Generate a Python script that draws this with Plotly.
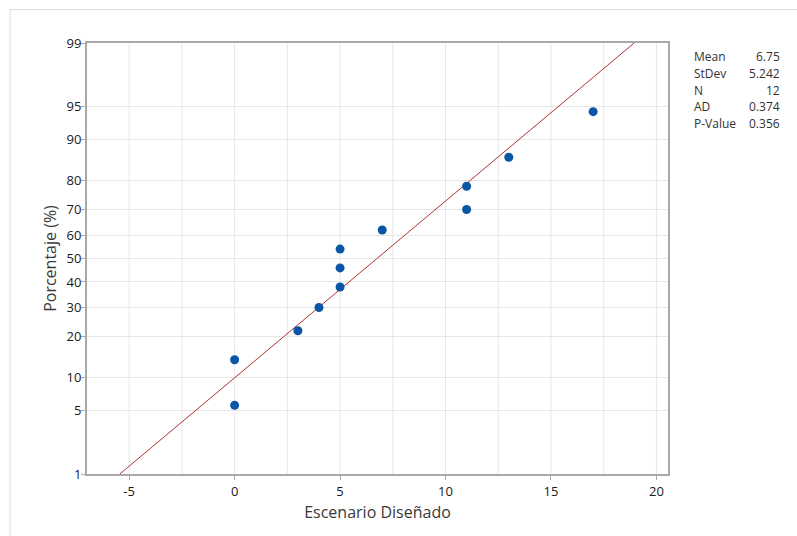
import plotly.graph_objects as go
from statistics import NormalDist

# Observations (sorted) for the normal probability plot
valores = [0, 0, 3, 4, 5, 5, 5, 7, 11, 11, 13, 17]
media = 6.75
desv = 5.242
stat_labels = ["Mean", "StDev", "N", "AD", "P-Value"]
stat_values = ["6.75", "5.242", "12", "0.374", "0.356"]
pct_ticks = [1, 5, 10, 20, 30, 40, 50, 60, 70, 80, 90, 95, 99]
x_ticks = [-5, 0, 5, 10, 15, 20]

nd = NormalDist()
n = len(valores)
# Median ranks (Benard) -> normal scores
pct = [(i - 0.3) / (n + 0.4) for i in range(1, n + 1)]
z_pts = [nd.inv_cdf(p) for p in pct]

z_lo, z_hi = nd.inv_cdf(0.01), nd.inv_cdf(0.99)
line_x = [media + desv * z_lo, media + desv * z_hi]
line_z = [z_lo, z_hi]

W, H = 797, 536
L, R, T, B = 87, 129, 43, 62
pw, ph = W - L - R, H - T - B

fig = go.Figure()
fig.add_trace(go.Scatter(x=line_x, y=line_z, mode="lines",
                         line=dict(color="#b03030", width=1), hoverinfo="skip"))
fig.add_trace(go.Scatter(x=valores, y=z_pts, mode="markers",
                         marker=dict(color="#0a55a6", size=9)))

grid = "#e6e6e6"
axis_col = "#a8a8a8"
font = "Open Sans, Noto Sans, sans-serif"

fig.update_xaxes(range=[-7.0, 20.55], tickvals=x_ticks, ticktext=[str(v) for v in x_ticks],
                 showgrid=False, zeroline=False, showline=True, linecolor=axis_col, linewidth=2,
                 mirror=True, ticks="outside", ticklen=4, tickcolor=axis_col,
                 tickfont=dict(size=13, color="#1a1a1a", family=font),
                 title=dict(text="Escenario Diseñado", font=dict(size=16, color="#3a3a3a", family=font),
                            standoff=8))
fig.update_yaxes(range=[z_lo, z_hi], tickvals=[nd.inv_cdf(p / 100) for p in pct_ticks],
                 ticktext=[str(p) for p in pct_ticks],
                 showgrid=True, gridcolor=grid, gridwidth=1, zeroline=False,
                 showline=True, linecolor=axis_col, linewidth=2, mirror=True,
                 ticks="outside", ticklen=4, tickcolor=axis_col, ticklabelstandoff=-3,
                 tickfont=dict(size=13, color="#1a1a1a", family=font),
                 title=dict(text="Porcentaje (%)", font=dict(size=16, color="#3a3a3a", family=font),
                            standoff=6))

# vertical grid every 2.5 units
shapes = []
v = -5.0
while v <= 20.0:
    shapes.append(dict(type="line", xref="x", yref="paper", x0=v, x1=v, y0=0, y1=1,
                       line=dict(color=grid, width=1), layer="below"))
    v += 2.5

# outer frame of the graph window
def px_x(px):
    return (px - L) / pw

def px_y(py):
    return 1 - (py - T) / ph

shapes.append(dict(type="rect", xref="paper", yref="paper",
                   x0=px_x(10), x1=px_x(810), y0=px_y(9.5), y1=px_y(560),
                   line=dict(color="#dcdcdc", width=1), layer="below"))

annotations = []
for i, (lab, val) in enumerate(zip(stat_labels, stat_values)):
    yy = px_y(57 + i * 16.5)
    annotations.append(dict(xref="paper", yref="paper", x=px_x(692), y=yy, text=lab,
                            showarrow=False, xanchor="left", yanchor="middle",
                            font=dict(size=12, color="#333", family=font)))
    annotations.append(dict(xref="paper", yref="paper", x=px_x(782), y=yy, text=val,
                            showarrow=False, xanchor="right", yanchor="middle",
                            font=dict(size=12, color="#333", family=font)))

fig.update_layout(width=W, height=H, margin=dict(l=L, r=R, t=T, b=B),
                  paper_bgcolor="white", plot_bgcolor="white", showlegend=False,
                  shapes=shapes, annotations=annotations)

fig.write_html("out.html")
